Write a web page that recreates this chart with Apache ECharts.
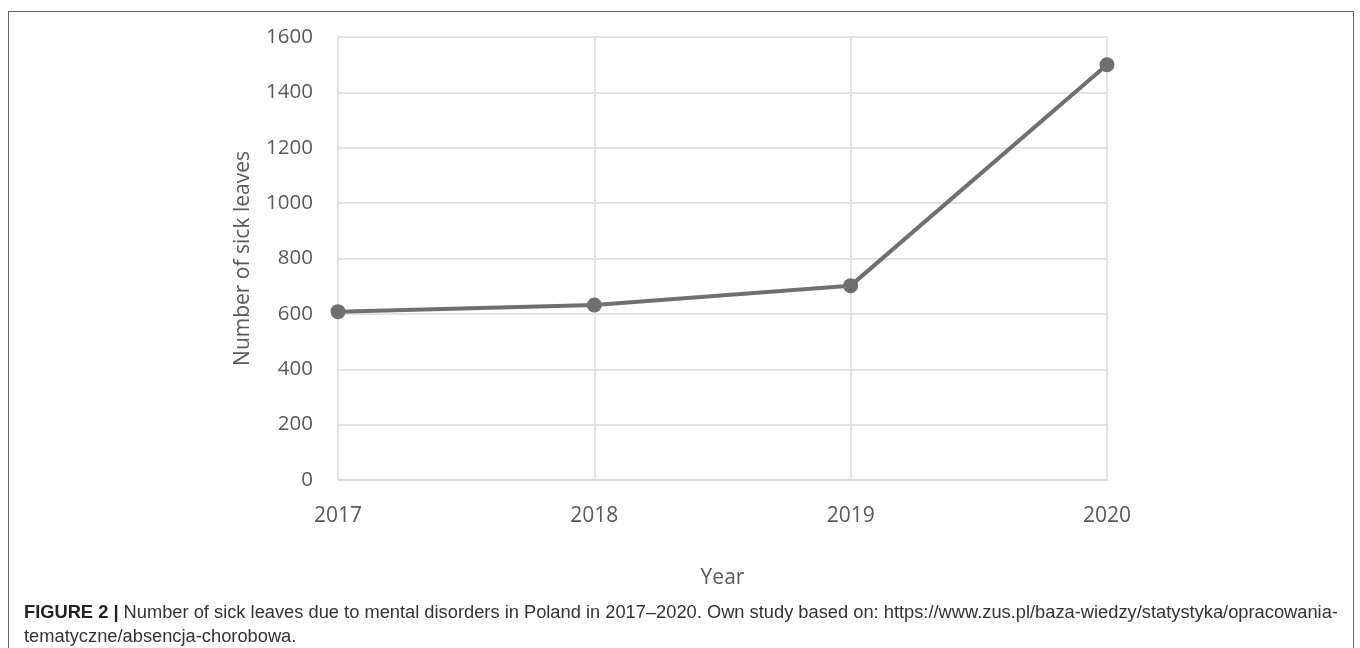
<!DOCTYPE html>
<html>
<head>
<meta charset="utf-8">
<script src="https://cdn.jsdelivr.net/npm/echarts@6/dist/echarts.min.js"></script>
<style>
  html, body { margin: 0; padding: 0; background: #fff; }
  #frame {
    position: absolute; left: 8px; top: 11px; width: 1346px; height: 700px;
    border: 1px solid #666; box-sizing: border-box;
  }
  #chart { position: absolute; left: 0; top: 0; width: 1360px; height: 648px; }
  #caption {
    position: absolute; left: 24px; top: 600px; width: 1330px; white-space: nowrap;
    font-family: "Liberation Sans", Arial, sans-serif;
    font-size: 18.3px; line-height: 24px; color: #333;
  }
  #caption b { color: #222; }
</style>
</head>
<body>
<div id="frame"></div>
<div id="chart"></div>
<div id="caption"><b>FIGURE 2 |</b> Number of sick leaves due to mental disorders in Poland in 2017–2020. Own study based on: https://www.zus.pl/baza-wiedzy/statystyka/opracowania-<br>tematyczne/absencja-chorobowa.</div>
<script>
// ====== 数据 ======
const years = ["2017", "2018", "2019", "2020"];
const sickLeaves = [608, 632, 702, 1500];

const chart = echarts.init(document.getElementById("chart"));
const gray = "#595959";
const gridColor = "#d9d9d9";

chart.setOption({
  animation: false,
  textStyle: { fontFamily: "'Open Sans', sans-serif" },
  grid: { left: 338, right: 253, top: 37, bottom: 168 },
  xAxis: {
    type: "category",
    data: years,
    boundaryGap: false,
    name: "Year",
    nameLocation: "middle",
    nameGap: 88,
    nameTextStyle: { fontSize: 21, color: gray },
    axisLine: { lineStyle: { color: gridColor, width: 1.5 } },
    axisTick: { show: false },
    axisLabel: { fontSize: 21, color: gray, margin: 26 },
    splitLine: { show: true, lineStyle: { color: gridColor, width: 1.5 } }
  },
  yAxis: {
    type: "value",
    min: 0, max: 1600, interval: 200,
    name: "Number of sick leaves",
    nameLocation: "middle",
    nameGap: 84,
    nameTextStyle: { fontSize: 21, color: gray },
    axisLine: { show: false },
    axisTick: { show: false },
    axisLabel: { fontSize: 20.5, color: gray, margin: 25, formatter: v => String(v) },
    splitLine: { lineStyle: { color: gridColor, width: 1.5 } }
  },
  series: [{
    type: "line",
    data: sickLeaves,
    symbol: "circle",
    symbolSize: 15,
    lineStyle: { color: "#6f6f6f", width: 4 },
    itemStyle: { color: "#6f6f6f" }
  }]
});
</script>
</body>
</html>
